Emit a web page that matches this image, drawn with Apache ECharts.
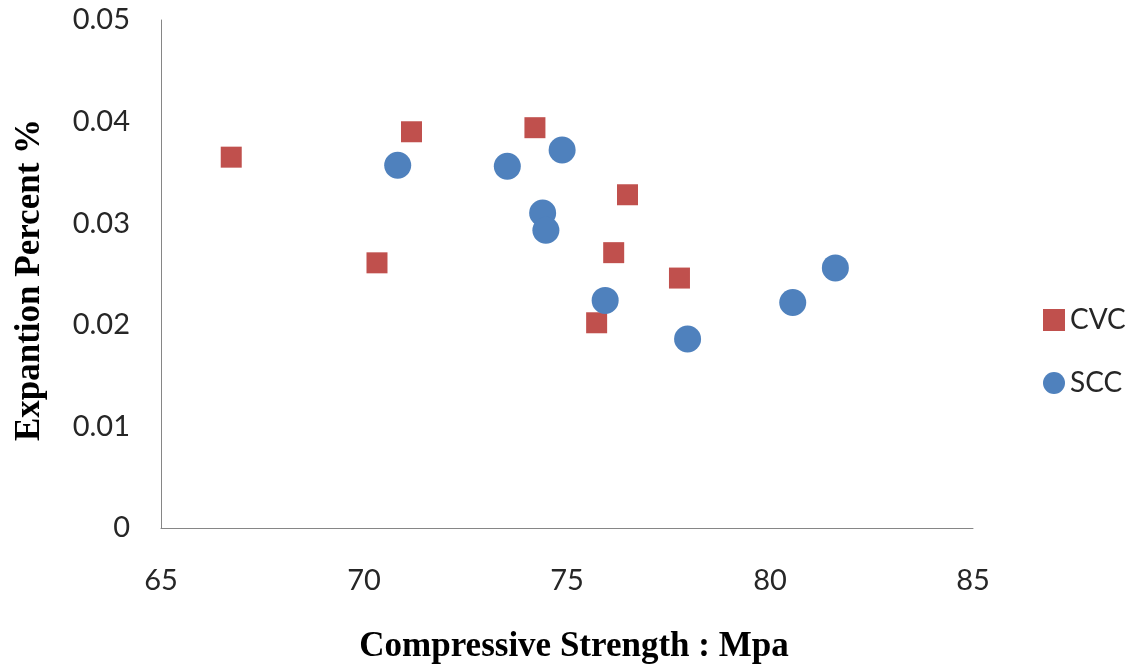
<!DOCTYPE html>
<html>
<head>
<meta charset="utf-8">
<script src="https://cdn.jsdelivr.net/npm/echarts@6/dist/echarts.min.js"></script>
<style>
  html, body { margin: 0; padding: 0; background: #fff; }
  #chart { width: 1126px; height: 669px; }
</style>
</head>
<body>
<div id="chart"></div>
<script>
// Compressive strength (MPa) vs expansion percent for two concrete types
const cvcStrength  = [66.73, 71.17, 74.21, 76.49, 76.15, 70.32, 75.73, 77.77];
const cvcExpansion = [0.0365, 0.0390, 0.0394, 0.0328, 0.0271, 0.0261, 0.0202, 0.0246];

const sccStrength  = [70.83, 73.53, 74.88, 74.40, 74.48, 75.94, 77.97, 80.56, 81.61];
const sccExpansion = [0.0357, 0.0356, 0.0372, 0.0310, 0.0293, 0.0224, 0.0186, 0.0222, 0.0256];

const seriesNames = ['CVC', 'SCC'];
const xTicks = [65, 70, 75, 80, 85];
const yTicks = [0, 0.01, 0.02, 0.03, 0.04, 0.05];

const pairs = (xs, ys) => xs.map((x, i) => [x, ys[i]]);

const chart = echarts.init(document.getElementById('chart'), null, { renderer: 'canvas' });

const sansFamily = 'Lato, "Open Sans", sans-serif';
const tickFont = { fontFamily: sansFamily, fontSize: 29, color: '#262626' };
const titleFont = { fontFamily: '"Liberation Serif", "Times New Roman", serif', fontWeight: 'bold', fontSize: 35, color: '#000' };

chart.setOption({
  animation: false,
  backgroundColor: '#ffffff',
  grid: { left: 161, right: 153, top: 20, bottom: 138, containLabel: false },
  legend: {
    orient: 'vertical',
    left: 1038,
    top: 301,
    itemWidth: 22,
    itemHeight: 22,
    itemGap: 35,
    textStyle: { fontFamily: sansFamily, fontSize: 28, color: '#262626' },
    data: [
      { name: seriesNames[0], icon: 'rect' },
      { name: seriesNames[1], icon: 'circle' }
    ]
  },
  xAxis: {
    type: 'value',
    min: xTicks[0],
    max: xTicks[xTicks.length - 1],
    interval: 5,
    name: 'Compressive Strength : Mpa',
    nameLocation: 'middle',
    nameGap: 101,
    nameTextStyle: Object.assign({ padding: [0, 0, 0, 14] }, titleFont),
    axisLine: { show: true, lineStyle: { color: '#868686', width: 1 } },
    axisTick: { show: false },
    splitLine: { show: false },
    axisLabel: Object.assign({ margin: 38 }, tickFont)
  },
  yAxis: {
    type: 'value',
    min: yTicks[0],
    max: yTicks[yTicks.length - 1],
    interval: 0.01,
    name: 'Expantion Percent %',
    nameLocation: 'middle',
    nameGap: 114,
    nameRotate: 90,
    nameTextStyle: Object.assign({ padding: [0, 12, 0, 0] }, titleFont),
    axisLine: { show: true, lineStyle: { color: '#868686', width: 1 } },
    axisTick: { show: false },
    splitLine: { show: false },
    axisLabel: Object.assign({ margin: 31, formatter: v => (v === 0 ? '0' : v.toFixed(2)) }, tickFont)
  },
  series: [
    {
      name: seriesNames[0],
      type: 'scatter',
      symbol: 'rect',
      symbolSize: 21,
      itemStyle: { color: '#C0504D', opacity: 1 },
      data: pairs(cvcStrength, cvcExpansion)
    },
    {
      name: seriesNames[1],
      type: 'scatter',
      symbol: 'circle',
      symbolSize: 27,
      itemStyle: { color: '#4F81BD', opacity: 1 },
      data: pairs(sccStrength, sccExpansion)
    }
  ]
});
</script>
</body>
</html>
